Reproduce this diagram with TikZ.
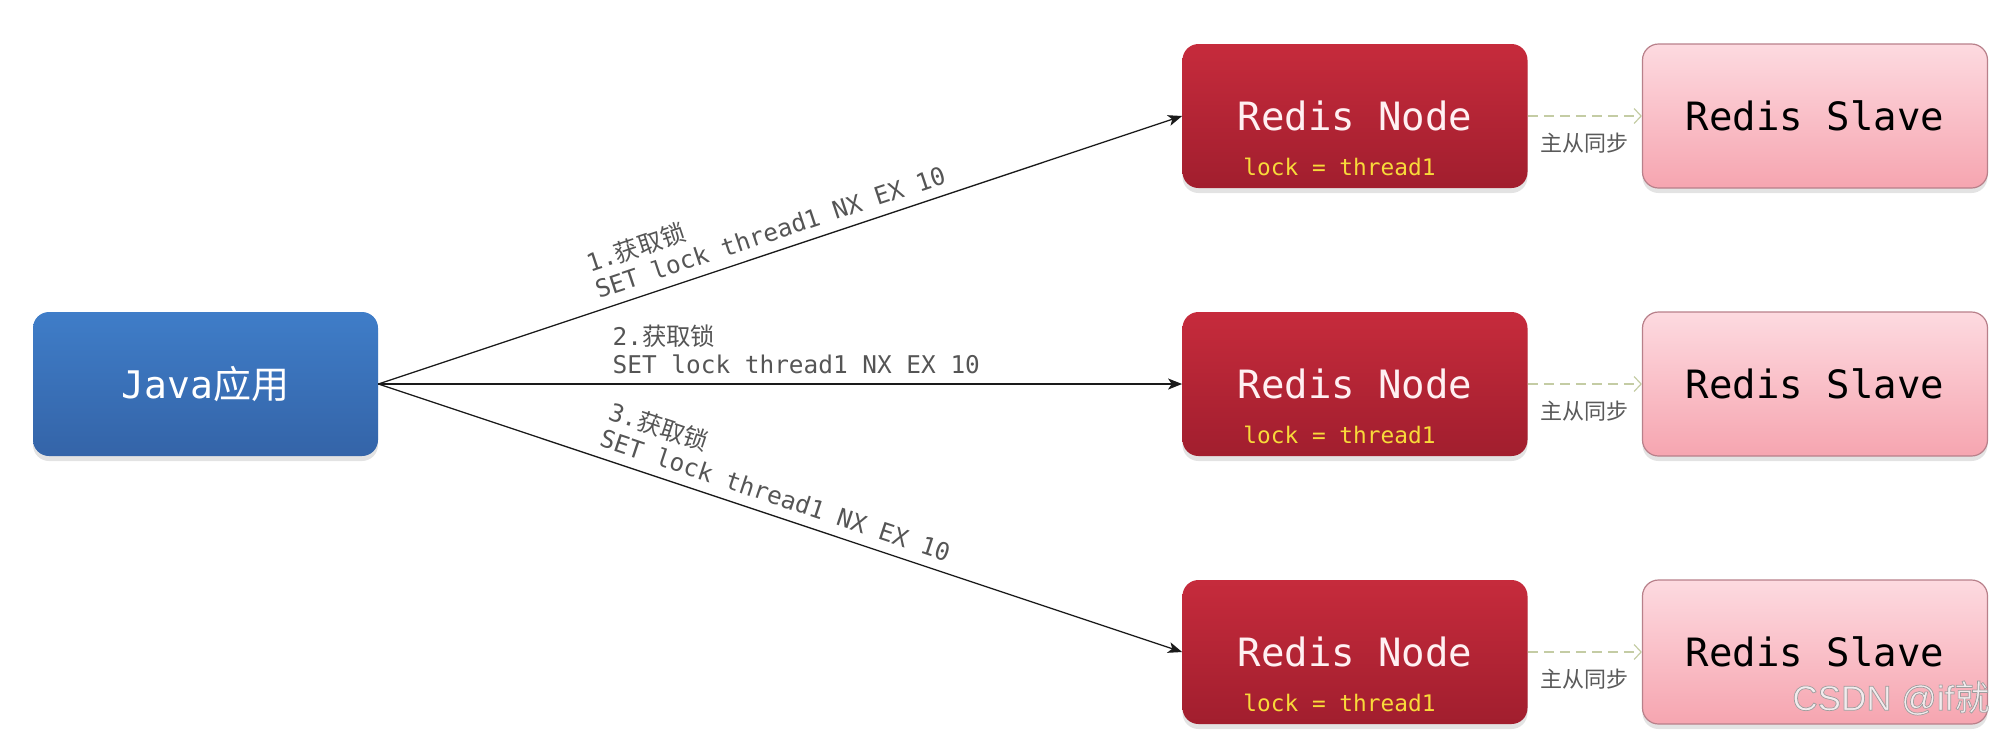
\documentclass[tikz,border=0pt]{standalone}
\usepackage{fontspec}
\setmainfont{Liberation Sans}
\setmonofont{DejaVu Sans Mono}
\newfontfamily\cjk{Noto Sans CJK SC}
\usetikzlibrary{arrows.meta,shadows}
\definecolor{javatop}{HTML}{3F7DC8}
\definecolor{javabot}{HTML}{3464A8}
\definecolor{redtop}{HTML}{C62B3C}
\definecolor{redbot}{HTML}{A11E2E}
\definecolor{slavetop}{HTML}{FDDAE0}
\definecolor{slavebot}{HTML}{F6A5B0}
\definecolor{slaveborder}{HTML}{B8808A}
\definecolor{nodetext}{HTML}{FFF0F2}
\definecolor{locktext}{HTML}{F8DA3A}
\definecolor{lblgray}{HTML}{555555}
\definecolor{syncline}{HTML}{C4CCA4}
\definecolor{syncgray}{HTML}{5A5A5A}
\definecolor{arrowcol}{HTML}{1A1A1A}
\definecolor{wmtext}{HTML}{F2ECEE}
\newcommand\myNodeFont{\fontsize{19.5pt}{23pt}\selectfont\ttfamily}
\newcommand\myJavaFont{\fontsize{19pt}{23pt}\selectfont\ttfamily}
\newcommand\myLockFont{\fontsize{11.4pt}{14pt}\selectfont\ttfamily}
\newcommand\myLblFont{\fontsize{12.2pt}{14pt}\selectfont\ttfamily}
\newcommand\mySyncFont{\fontsize{11pt}{13pt}\selectfont\cjk}
\newcommand\myWmFont{\fontsize{17.5pt}{20pt}\selectfont\rmfamily}
\newcommand\myOutlineOn{\special{pdf:literal direct 2 Tr 0.35 w 0.62 0.62 0.62 RG}}
\newcommand\myOutlineOff{\special{pdf:literal direct 0 Tr}}
\begin{document}
\begin{tikzpicture}[x=0.5pt,y=-0.5pt,
  box/.style={rounded corners=8pt, minimum width=172.5pt, minimum height=72pt, inner sep=0pt,
    drop shadow={opacity=0.22, shadow xshift=0pt, shadow yshift=-2.5pt}},
  javabox/.style={box, top color=javatop, bottom color=javabot, text=white, font=\myJavaFont},
  redbox/.style={box, top color=redtop, bottom color=redbot, text=nodetext, font=\myNodeFont},
  slavebox/.style={box, top color=slavetop, bottom color=slavebot, draw=slaveborder, line width=0.6pt, text=black, font=\myNodeFont},
  locklbl/.style={anchor=west, inner sep=0pt, text=locktext, font=\myLockFont},
  mainarrow/.style={draw=arrowcol, line width=0.65pt, -{Stealth[length=7pt,width=5.5pt,inset=1.8pt]}},
  lbl/.style={sloped, anchor=south, inner xsep=0pt, inner ysep=5pt, align=left, text=lblgray, font=\myLblFont},
  syncarrow/.style={draw=syncline, line width=0.6pt, dash pattern=on 5pt off 3pt, -{Straight Barb[length=3.5pt,width=7.5pt]}},
  synclbl/.style={midway, anchor=north, yshift=-8pt, inner sep=0pt, text=syncgray, font=\mySyncFont}
]
\useasboundingbox (0,0) rectangle (1997,730);

\node[javabox] (java) at (205.5,384) {Java{\cjk 应用}};

\node[redbox] (n1) at (1355,116) {Redis Node};
\node[redbox] (n2) at (1355,384) {Redis Node};
\node[redbox] (n3) at (1355,652) {Redis Node};

\node[locklbl] (l1) at (1243,167) {lock = thread1};
\node[locklbl] (l2) at (1243,435) {lock = thread1};
\node[locklbl] (l3) at (1243,703) {lock = thread1};

\node[slavebox] (s1) at (1815,116) {Redis Slave};
\node[slavebox] (s2) at (1815,384) {Redis Slave};
\node[slavebox] (s3) at (1815,652) {Redis Slave};

\draw[mainarrow] (java.east) -- node[lbl, pos=0.4955] (t1) {1.{\cjk 获取锁}\\SET lock thread1 NX EX 10} (n1.west);
\draw[mainarrow] (java.east) -- node[lbl, pos=0.52] (t2) {2.{\cjk 获取锁}\\SET lock thread1 NX EX 10} (n2.west);
\draw[mainarrow] (java.east) -- node[lbl, pos=0.486] (t3) {3.{\cjk 获取锁}\\SET lock thread1 NX EX 10} (n3.west);

\draw[syncarrow] (n1.east) -- node[synclbl] (m1) {主从同步} (s1.west);
\draw[syncarrow] (n2.east) -- node[synclbl] (m2) {主从同步} (s2.west);
\draw[syncarrow] (n3.east) -- node[synclbl] (m3) {主从同步} (s3.west);

\node[anchor=west, inner sep=0pt, text=wmtext, font=\myWmFont] (wm) at (1792,698) {\myOutlineOn CSDN @if{\cjk 就}\myOutlineOff};
\end{tikzpicture}
\end{document}
